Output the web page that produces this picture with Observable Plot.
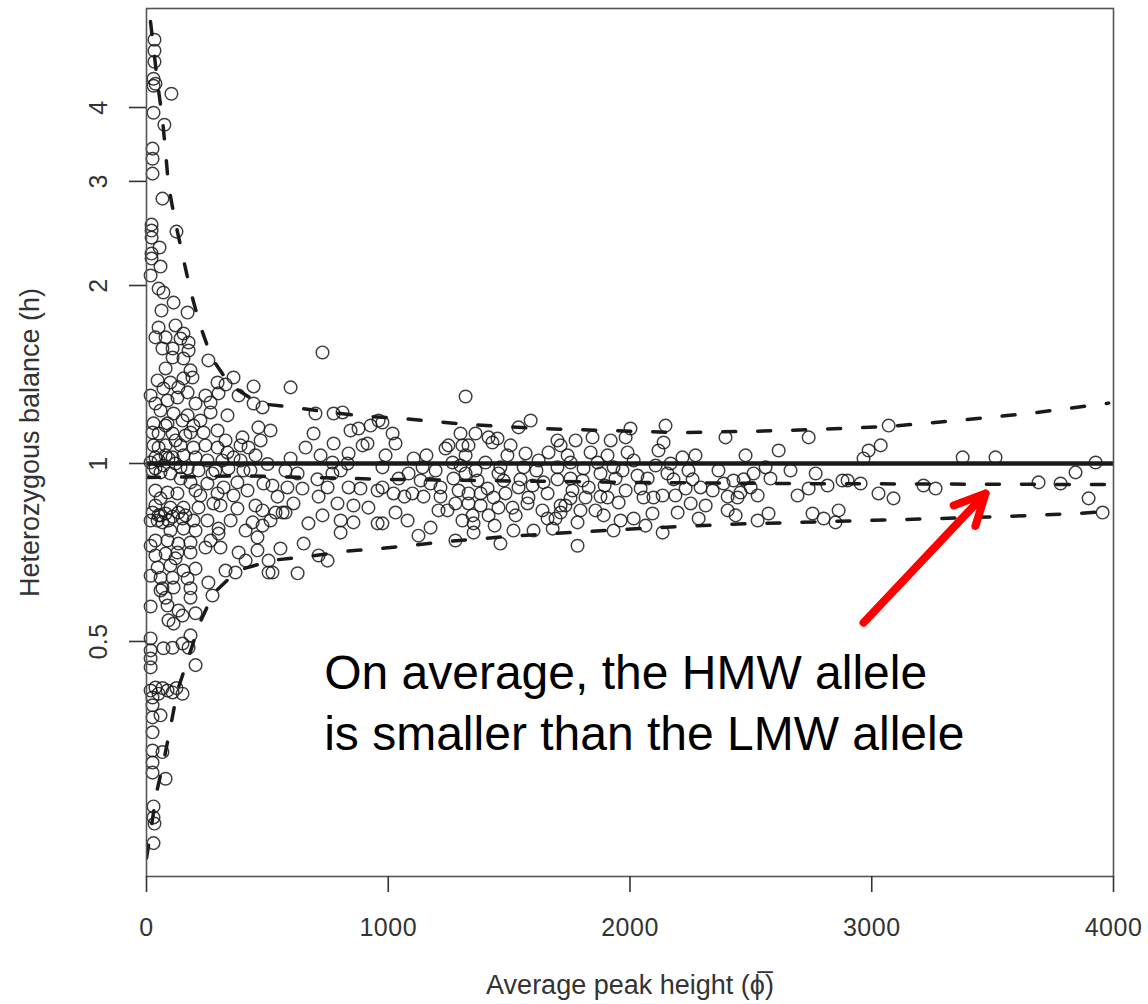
<!DOCTYPE html>
<html>
<head>
<meta charset="utf-8">
<script src="https://cdn.jsdelivr.net/npm/d3@7"></script>
<script src="https://cdn.jsdelivr.net/npm/@observablehq/plot@0.6"></script>
<style>
  html, body { margin: 0; padding: 0; background: #fff; }
  #chart svg { display: block; }
  g[aria-label="y-title"] text { letter-spacing: 1.4px; }
  g[aria-label="x-title"] text { letter-spacing: 0.6px; }
  g[aria-label="x-axis tick label"] text, g[aria-label="y-axis tick label"] text { letter-spacing: 0.5px; }
</style>
</head>
<body>
<div id="chart"></div>
<script>
// ---------------- DATA ----------------
// Average peak height (x) of each heterozygous locus
const peakHeight = [
  33,33,33,29,29,37,103,29,74,25,
  25,25,66,124,21,21,21,54,21,21,
  58,17,50,70,112,62,170,50,120,153,
  37,79,141,174,108,66,174,108,153,256,
  79,182,46,99,153,190,294,360,327,443,
  70,132,170,381,298,37,87,128,203,265,
  443,480,58,112,170,265,335,29,87,149,
  194,294,236,463,397,472,50,108,161,29,
  79,141,194,244,294,335,389,422,360,37,
  108,153,203,252,314,389,37,99,170,215,
  273,339,401,501,182,252,319,376,418,484,
  37,87,128,294,360,37,99,153,215,277,
  376,451,480,58,
  17,50,70,91,120,141,25,58,79,25,
  50,79,108,132,161,17,66,
  46,91,149,194,252,439,480,99,153,298,
  298,459,37,87,132,182,244,306,381,459,
  37,79,128,182,505,46,99,153,203,327,
  368,505,58,108,170,256,66,112,182,273,
  79,182,87,132,203,149,112,182,17,70,
  108,149,174,17,17,17,203,37,87,149,
  50,66,108,124,17,
  25,25,58,25,25,25,66,25,25,79,
  29,29,33,29,
  728,596,699,774,811,691,774,658,596,720,
  836,844,877,927,960,914,894,832,769,625,
  707,769,803,521,583,645,749,836,956,885,
  542,575,608,712,790,856,918,534,563,670,
  728,803,856,956,803,650,554,712,749,521,
  625,513,
  1320,976,1018,1030,989,976,1105,1142,1084,1134,
  1175,1216,976,1022,1100,1146,1030,1080,976,1125,
  1175,1208,1216,1237,1249,1299,1307,1332,1361,1320,
  1299,1320,1361,1369,1270,1291,1332,1382,1278,1332,
  1382,1349,1353,1353,1278,1415,1411,1456,1493,1415,
  1431,1452,1464,1477,1485,1436,1456,1464,1518,1514,
  1539,1547,1560,1568,1539,1589,1580,1576,1601,1622,
  1642,1659,1638,1659,1700,1713,1700,1700,1713,1713,
  1692,1742,1754,1754,1762,1754,1783,1783,1795,1816,
  1829,1808,1837,1845,1866,1878,1878,1907,1891,1907,
  1932,1940,1953,1932,1961,1982,1982,2002,1990,2015,
  2031,2015,2056,2073,2093,2097,2135,2135,2118,2139,
  2147,2168,2155,2180,2197,2217,2230,2251,2259,2284,
  2292,2342,2387,2395,2404,2404,2428,2445,2457,2470,
  2511,2528,2528,2561,2573,2615,
  2693,2739,2739,2768,2755,2801,2817,2850,2863,2879,
  2900,2954,2966,2987,3037,3070,3028,3090,3214,3264,
  3376,3512,3690,3781,3843,3897,3926,3955,
  1043,1067,1158,1196,1266,1245,1307,1402,1440,1506,
  1527,1597,1613,1663,1680,1733,1775,1804,1857,1895,
  1920,1969,2044,2064,2106,2188,2242,2271,2313,2366,
  2437,2478,2499,2581,2664,
  17,25,50,79,120,182,223,244,285,327,
  430,451,141,203,58,223,348,410,265,203,
  120,58,17,91,17,17,410,306,513,575
];
// Heterozygous balance (h) of each locus, same order
const balance = [
  5.207,4.990,4.780,4.474,4.354,4.388,4.221,3.920,3.741,3.408,
  3.277,3.092,2.805,2.467,2.535,2.477,2.410,2.319,2.265,2.221,
  2.153,2.079,1.976,1.946,1.871,1.814,1.800,1.698,1.712,1.659,
  1.634,1.634,1.627,1.602,1.565,1.565,1.553,1.511,1.505,1.494,
  1.448,1.437,1.382,1.371,1.393,1.398,1.371,1.398,1.360,1.350,
  1.339,1.345,1.319,1.303,1.314,1.263,1.278,1.293,1.263,1.268,
  1.263,1.244,1.229,1.215,1.206,1.220,1.206,1.169,1.169,1.182,
  1.159,1.137,1.128,1.151,1.107,1.094,1.124,1.124,1.115,1.073,
  1.073,1.073,1.064,1.073,1.064,1.044,1.073,1.064,1.024,1.024,
  1.024,1.032,1.024,1.012,1.012,1.012,0.981,0.962,0.981,0.973,
  0.962,0.981,0.973,0.998,0.929,0.925,0.911,0.929,0.900,0.925,
  0.900,0.893,0.890,0.890,0.883,0.849,0.842,0.842,0.842,0.856,
  0.839,0.849,0.833,0.817,
  1.004,1.012,0.992,1.020,1.000,0.985,0.973,0.966,1.032,0.826,
  0.817,0.823,0.813,0.826,0.817,0.801,0.795,
  0.801,0.801,0.807,0.801,0.801,0.795,0.785,0.770,0.776,0.776,
  0.761,0.750,0.741,0.741,0.732,0.735,0.721,0.721,0.707,0.713,
  0.699,0.704,0.707,0.707,0.685,0.667,0.672,0.659,0.664,0.659,
  0.654,0.654,0.641,0.641,0.639,0.629,0.615,0.617,0.615,0.598,
  0.593,0.593,0.575,0.564,0.558,0.553,0.536,0.512,0.506,0.487,
  0.488,0.496,0.488,0.483,0.468,0.452,0.456,0.418,0.413,0.408,
  0.408,0.417,0.410,0.417,0.413,
  0.402,0.390,0.375,0.372,0.351,0.327,0.325,0.312,0.300,0.293,
  0.263,0.252,0.246,0.228,
  1.541,1.345,1.215,1.215,1.220,1.124,1.081,1.064,1.020,1.032,
  1.040,1.137,1.146,1.159,1.182,1.081,1.073,1.000,1.004,0.962,
  0.940,0.962,0.973,0.918,0.911,0.907,0.911,0.911,0.900,0.907,
  0.879,0.826,0.856,0.879,0.856,0.849,0.842,0.826,0.826,0.792,
  0.817,0.801,0.795,0.792,0.764,0.732,0.718,0.699,0.685,0.654,
  0.652,1.137,
  1.298,1.173,1.124,1.081,1.032,0.985,1.020,0.985,0.962,0.936,
  0.925,0.911,0.911,0.890,0.890,0.879,0.826,0.801,0.792,0.755,
  0.779,0.833,0.879,1.060,1.073,1.124,1.073,1.073,1.124,1.032,
  0.992,0.962,0.973,0.936,0.943,0.900,0.890,0.890,0.856,0.856,
  0.849,0.817,0.792,0.764,0.741,0.817,0.907,0.962,1.032,1.107,
  1.085,1.102,0.985,0.936,0.890,0.876,0.842,0.732,0.770,0.842,
  0.911,0.940,0.985,1.040,1.151,1.182,0.876,0.856,0.770,1.012,
  0.929,0.890,0.833,0.807,1.094,1.073,0.985,0.940,0.849,0.826,
  0.807,1.032,1.004,0.943,0.900,0.873,0.795,0.726,0.833,0.876,
  0.911,0.981,1.044,1.107,1.004,0.962,0.879,0.876,0.817,1.032,
  0.985,0.943,0.859,0.770,0.801,0.900,1.107,1.146,1.044,1.012,
  0.954,0.807,0.876,0.943,0.823,0.876,0.883,0.764,1.052,1.085,
  1.159,1.000,0.962,0.940,0.826,1.024,0.907,0.856,0.940,0.807,
  0.911,0.900,0.925,1.107,0.879,0.833,0.936,0.876,0.893,0.940,
  0.962,0.883,0.801,0.985,0.823,1.052,
  0.883,1.107,0.907,0.962,0.823,0.807,0.918,0.795,0.833,0.936,
  0.936,0.925,1.020,1.052,1.073,1.159,0.890,0.873,0.918,0.907,
  1.024,1.024,0.929,0.925,0.966,0.873,1.004,0.826,
  0.943,0.879,1.032,0.973,1.004,0.833,0.801,1.004,0.785,1.073,
  0.817,0.918,0.973,1.044,0.776,0.849,1.094,0.936,0.833,0.918,
  1.094,0.973,0.907,0.785,0.992,0.883,0.973,1.032,0.849,0.973,
  0.817,1.032,0.911,0.943,0.973,
  1.303,1.128,1.064,1.159,1.094,1.128,1.182,1.303,0.973,1.094,
  0.973,1.032,0.943,0.900,0.873,0.883,0.801,0.770,0.741,0.770,
  0.691,0.610,0.573,0.543,0.726,0.646,0.685,0.849,0.801,0.973
];

// Dashed curves (upper bound, mean, lower bound)
const upperX = [0, 29, 46, 66, 79, 91, 116, 149, 182, 219, 269, 347, 467, 608, 761, 914, 1051, 1328, 1617, 1911, 2201, 2486, 2780, 3070, 3359, 3649, 3980];
const upperH = [6.4, 5.05, 4.39, 3.83, 3.36, 2.95, 2.60, 2.25, 1.96, 1.725, 1.51, 1.355, 1.263, 1.244, 1.220, 1.201, 1.192, 1.164, 1.146, 1.137, 1.128, 1.133, 1.142, 1.155, 1.183, 1.215, 1.265];
const meanX = [0, 400, 1000, 2000, 2600, 3980];
const meanH = [0.947, 0.953, 0.940, 0.929, 0.925, 0.921];
const lowerX = [0, 17, 41, 70, 99, 128, 170, 219, 277, 376, 521, 666, 815, 968, 1245, 1535, 1824, 2114, 2404, 2693, 2983, 3272, 3562, 3851, 3980];
const lowerH = [0.215, 0.238, 0.277, 0.312, 0.358, 0.413, 0.465, 0.536, 0.603, 0.659, 0.686, 0.696, 0.710, 0.718, 0.738, 0.755, 0.767, 0.779, 0.789, 0.795, 0.801, 0.807, 0.814, 0.823, 0.830];

// Reference line
const balanceRef = [1];

// Axes
const xTicks = [0, 1000, 2000, 3000, 4000];
const yTicks = [0.5, 1, 2, 3, 4];
const xTitle = "Average peak height (\u03D5\u0305)";
const yTitle = "Heterozygous balance (h)";

// Annotation and arrow (data coordinates)
const noteText = "On average, the HMW allele\nis smaller than the LMW allele";
const noteX = [735];
const noteH = [0.494];
const arrowX = [2966, 3471];
const arrowH = [0.538, 0.890];

// ---------------- CHART ----------------
const points = peakHeight.map((x, i) => ({x, h: balance[i]}));
const curves = [
  ...upperX.map((x, i) => ({curve: "upper", x, h: upperH[i]})),
  ...meanX.map((x, i) => ({curve: "mean", x, h: meanH[i]})),
  ...lowerX.map((x, i) => ({curve: "lower", x, h: lowerH[i]}))
];
const notes = [{text: noteText, x: noteX[0], h: noteH[0]}];
const arrows = [{x1: arrowX[0], y1: arrowH[0], x2: arrowX[1], y2: arrowH[1]}];

const chart = Plot.plot({
  width: 1148,
  height: 1004,
  marginLeft: 146,
  marginRight: 35,
  marginTop: 8,
  marginBottom: 128,
  style: {fontFamily: '"Liberation Sans", Arial, Helvetica, sans-serif', background: "#fff", color: "#333"},
  x: {domain: [0, 4000]},
  y: {type: "log", domain: [0.2002, 5.882]},
  marks: [
    Plot.dot(points, {x: "x", y: "h", r: 6.3, stroke: "#1a1a1a", strokeWidth: 1.45, strokeOpacity: 0.85, fill: "none"}),
    Plot.line(curves, {x: "x", y: "h", z: "curve", stroke: "#1a1a1a", strokeWidth: 3.5,
      strokeDasharray: "13,22", strokeLinecap: "round", clip: true}),
    Plot.ruleY(balanceRef, {stroke: "#1a1a1a", strokeWidth: 4.5}),
    Plot.frame({stroke: "#555", strokeWidth: 1.6}),
    Plot.axisX({ticks: xTicks, tickSize: 16, tickPadding: 26, fontSize: 25, tickFormat: d => String(d),
      label: null, color: "#333", strokeWidth: 1.6}),
    Plot.axisY({ticks: yTicks, tickSize: 17, tickPadding: 23, tickRotate: -90, fontSize: 25,
      tickFormat: d => String(d), label: null, color: "#333", strokeWidth: 1.6}),
    Plot.text([xTitle], {text: d => d, frameAnchor: "bottom", textAnchor: "middle", lineAnchor: "middle",
      dy: 109, fontSize: 27, fill: "#333", ariaLabel: "x-title"}),
    Plot.text([yTitle], {text: d => d, frameAnchor: "left", textAnchor: "middle", lineAnchor: "middle",
      dx: -116, rotate: -90, fontSize: 27, fill: "#333", ariaLabel: "y-title"}),
    Plot.text(notes, {x: "x", y: "h", text: "text", textAnchor: "start", lineAnchor: "top",
      lineHeight: 1.29, fontSize: 48, fill: "#000"}),
    Plot.arrow(arrows, {x1: "x1", y1: "y1", x2: "x2", y2: "y2", stroke: "#ff0000", strokeWidth: 8,
      headLength: 6.4, headAngle: 52})
  ]
});
document.getElementById("chart").append(chart);
</script>
</body>
</html>
